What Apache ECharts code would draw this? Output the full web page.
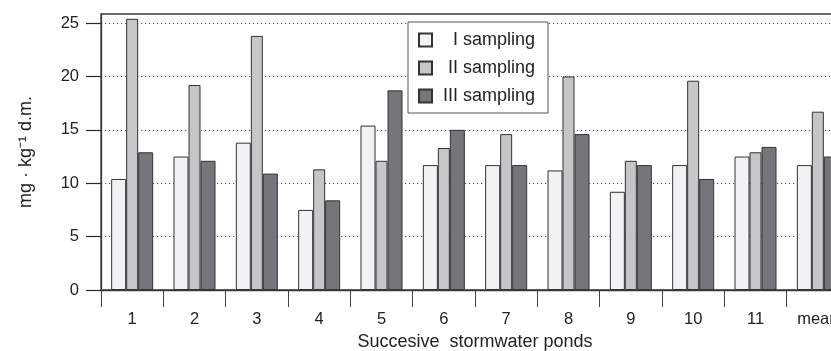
<!DOCTYPE html>
<html>
<head>
<meta charset="utf-8">
<script src="https://cdn.jsdelivr.net/npm/echarts@6/dist/echarts.min.js"></script>
<style>
  html, body { margin: 0; padding: 0; background: #fff; }
  #chart { width: 831px; height: 351px; }
</style>
</head>
<body>
<div id="chart"></div>
<script>
// kategorie i dane z wykresu
const ponds = ["1", "2", "3", "4", "5", "6", "7", "8", "9", "10", "11", "mean"];
const sampling1 = [10.4, 12.5, 13.8, 7.5, 15.4, 11.7, 11.7, 11.2, 9.2, 11.7, 12.5, 11.7];
const sampling2 = [25.4, 19.2, 23.8, 11.3, 12.1, 13.3, 14.6, 20.0, 12.1, 19.6, 12.9, 16.7];
const sampling3 = [12.9, 12.1, 10.9, 8.4, 18.7, 15.0, 11.7, 14.6, 11.7, 10.4, 13.4, 12.5];
const yTicks = [0, 5, 10, 15, 20, 25];

const FONT = "Liberation Sans";
const chart = echarts.init(document.getElementById("chart"), null, { renderer: "canvas" });

const bar = (name, data, color, width) => ({
  name,
  type: "bar",
  data,
  barWidth: width,
  barGap: "0%",
  itemStyle: { color, borderColor: "#333", borderWidth: 1 }
});

const option = {
  animation: false,
  textStyle: { fontFamily: FONT, color: "#222" },
  grid: {
    left: 101,
    top: 14,
    width: 748,
    bottom: 61,
    outerBoundsMode: "none",
    containLabel: false,
    show: true,
    borderColor: "#3a3a3a",
    borderWidth: 1.3,
    backgroundColor: "transparent"
  },
  legend: {
    orient: "vertical",
    left: 408,
    top: 22,
    padding: [9, 13, 8, 10],
    itemGap: 10,
    itemWidth: 13,
    itemHeight: 13,
    backgroundColor: "#fff",
    borderColor: "#555",
    borderWidth: 1,
    borderRadius: 0,
    icon: "rect",
    data: ["I sampling", "II sampling", "III sampling"],
    formatter: (name) => "{t|" + name + "}",
    textStyle: {
      fontFamily: FONT,
      color: "#222",
      rich: { t: { width: 98, align: "right", fontSize: 18, lineHeight: 18, fontFamily: FONT, color: "#222" } }
    }
  },
  xAxis: {
    type: "category",
    data: ponds,
    name: "Succesive  stormwater ponds",
    nameLocation: "middle",
    nameGap: 41,
    nameTextStyle: { fontSize: 18, fontFamily: FONT, color: "#222" },
    axisLine: { show: true, lineStyle: { color: "#3a3a3a", width: 1.3 } },
    axisTick: { show: true, length: 17, lineStyle: { color: "#444", width: 1 } },
    axisLabel: { fontSize: 16.5, margin: 21, color: "#222", fontFamily: FONT },
    splitLine: { show: false }
  },
  yAxis: {
    type: "value",
    min: 0,
    max: 25.85,
    interval: 5,
    name: "mg · kg⁻¹ d.m.",
    nameLocation: "middle",
    nameRotate: 90,
    nameGap: 66,
    nameTextStyle: { fontSize: 18, fontFamily: FONT, color: "#222" },
    axisLine: { show: true, lineStyle: { color: "#3a3a3a", width: 1.3 } },
    axisTick: { show: true, inside: false, length: 15, customValues: yTicks, lineStyle: { color: "#2a2a2a", width: 1.2 } },
    axisLabel: { fontSize: 16.5, margin: 22, color: "#222", fontFamily: FONT, showMaxLabel: false },
    splitLine: { show: true, lineStyle: { color: "#555", type: [1.2, 2.8], width: 1 } }
  },
  series: [
    bar("I sampling", sampling1, "#f1f2f3", 15),
    bar("II sampling", sampling2, "#c5c6c8", 12),
    bar("III sampling", sampling3, "#75767a", 15)
  ]
};

chart.setOption(option);
</script>
</body>
</html>
